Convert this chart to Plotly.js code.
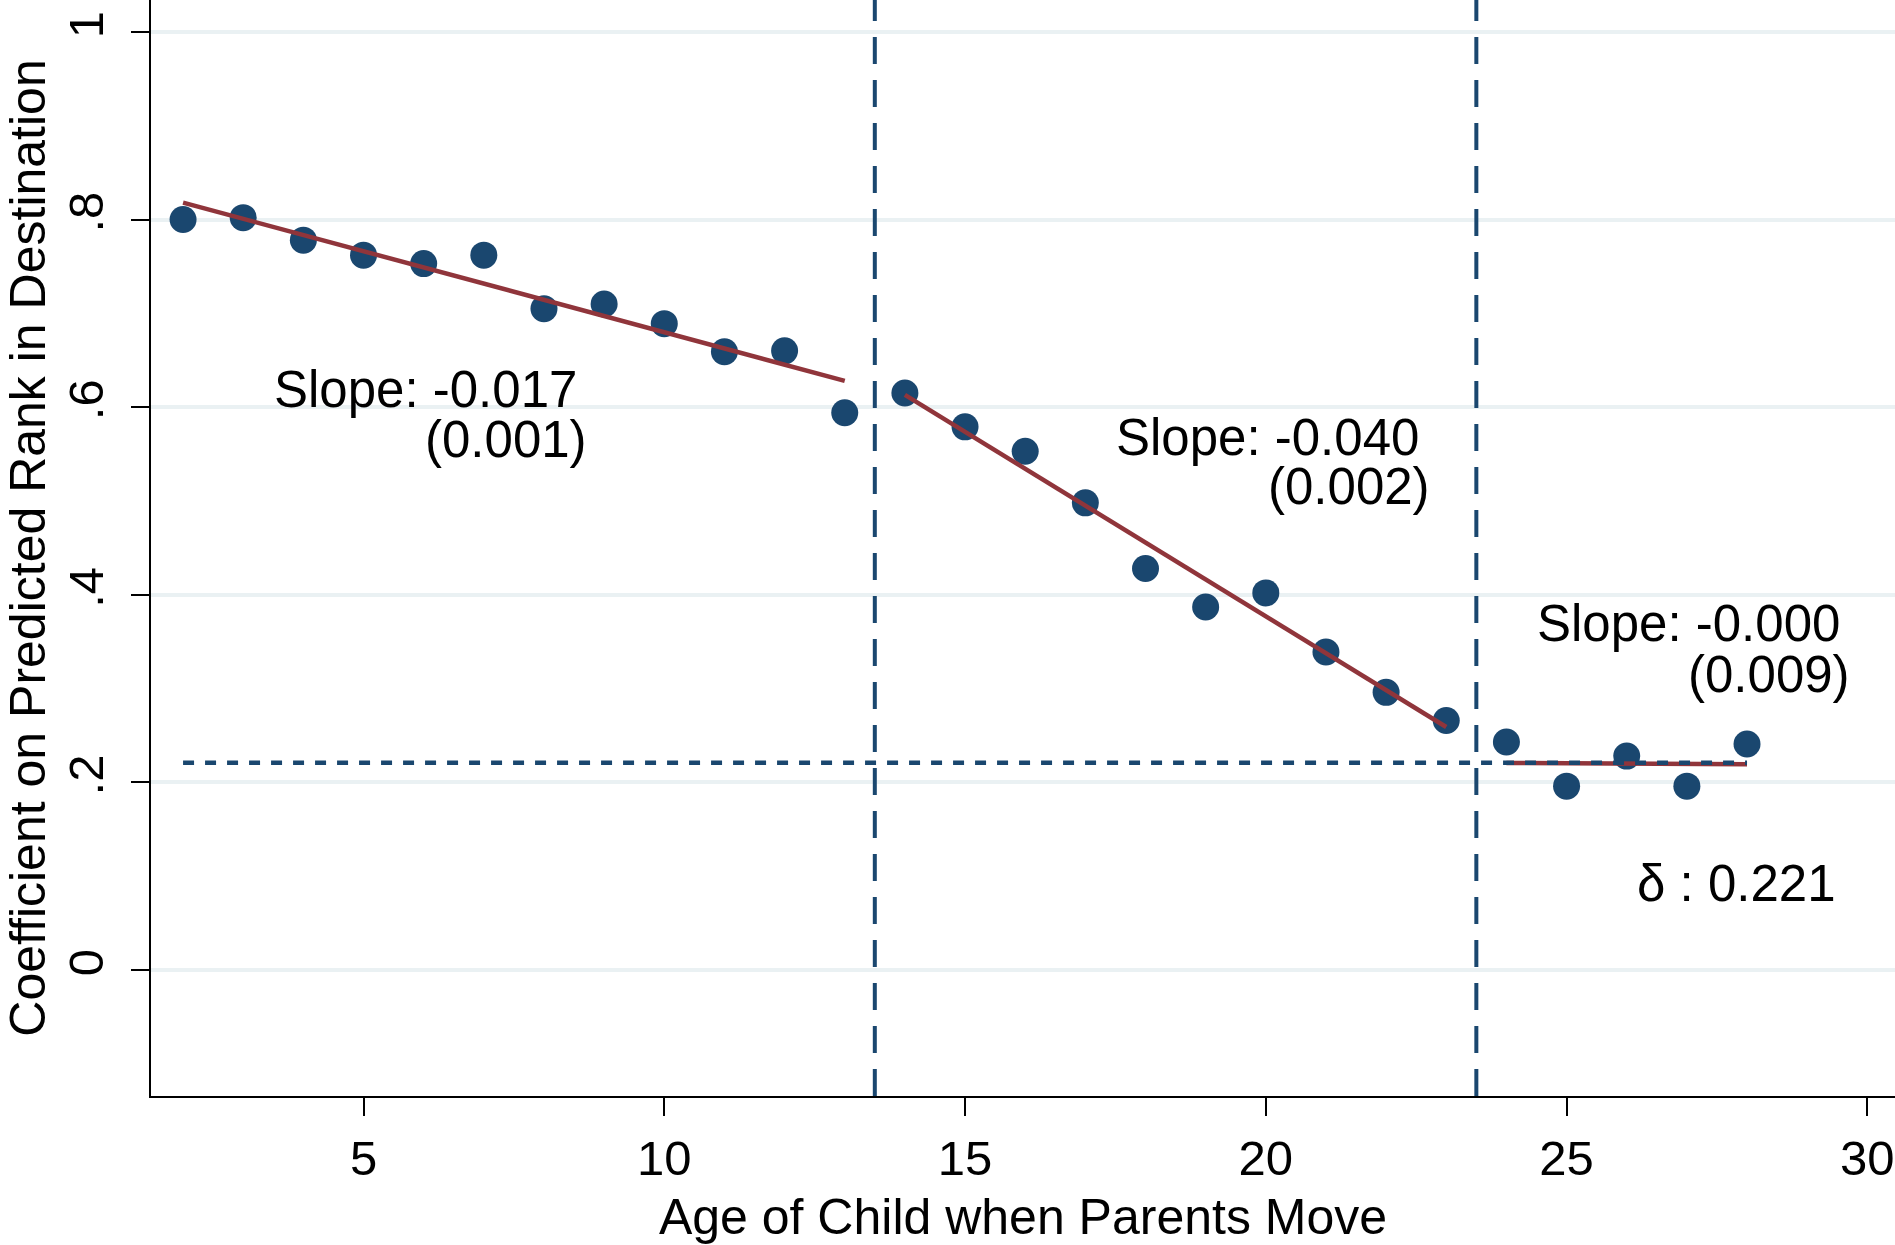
<!DOCTYPE html>
<html>
<head>
<meta charset="utf-8">
<script src="https://cdn.plot.ly/plotly-3.0.1.min.js"></script>
<style>
  html, body { margin: 0; padding: 0; background: #ffffff; }
  #chart { width: 1895px; height: 1245px; }
</style>
</head>
<body>
<div id="chart"></div>
<script>
// ---- Data ----
const ages = [2, 3, 4, 5, 6, 7, 8, 9, 10, 11, 12, 13, 14, 15, 16, 17, 18, 19, 20, 21, 22, 23, 24, 25, 26, 27, 28];
const coefficients = [0.800, 0.802, 0.778, 0.762, 0.753, 0.762, 0.705, 0.710, 0.689, 0.659, 0.660, 0.594,
                      0.615, 0.579, 0.553, 0.498, 0.428, 0.387, 0.402, 0.339, 0.296, 0.266,
                      0.243, 0.196, 0.228, 0.196, 0.241];

// Fitted lines (endpoints of each linear segment)
const fitEarlyX = [2, 13];
const fitEarlyY = [0.818, 0.628];
const fitMidX = [14, 23];
const fitMidY = [0.613, 0.259];
const fitLateX = [24, 28];
const fitLateY = [0.2207, 0.2193];

// Horizontal reference line at delta
const deltaValue = 0.221;
const deltaX = [2, 28];

// Vertical break points
const breakPoints = [13.5, 23.5];

// Axis ticks
const xTickVals = [5, 10, 15, 20, 25, 30];
const yTickVals = [0, 0.2, 0.4, 0.6, 0.8, 1];
const yTickText = ['0', '.2', '.4', '.6', '.8', '1'];

// Annotation texts
const slopeTexts = ['Slope: -0.017', '(0.001)', 'Slope: -0.040', '(0.002)', 'Slope: -0.000', '(0.009)'];
const deltaText = 'δ : 0.221';

// ---- Styling ----
const NAVY = '#1a476f';
const MAROON = '#90353b';
const FONT = 'Liberation Sans, Arial, Helvetica, sans-serif';

const traces = [
  {
    x: ages, y: coefficients, type: 'scatter', mode: 'markers',
    marker: { color: NAVY, size: 27, line: { width: 0 } },
    hoverinfo: 'x+y'
  },
  { x: fitEarlyX, y: fitEarlyY, type: 'scatter', mode: 'lines', line: { color: MAROON, width: 4.5 } },
  { x: fitMidX, y: fitMidY, type: 'scatter', mode: 'lines', line: { color: MAROON, width: 4.5 } },
  { x: fitLateX, y: fitLateY, type: 'scatter', mode: 'lines', line: { color: MAROON, width: 4.5 } },
  {
    x: deltaX, y: deltaX.map(() => deltaValue), type: 'scatter', mode: 'lines',
    line: { color: NAVY, width: 4.5, dash: '11px,11px' }
  }
];

const shapes = breakPoints.map(b => ({
  type: 'line', xref: 'x', yref: 'paper', x0: b, x1: b, y0: 0, y1: 1,
  line: { color: NAVY, width: 4, dash: '27px,16px' }, layer: 'above'
}));

function ann(text, x, y) {
  return { text: text, x: x, y: y, xref: 'x', yref: 'y', xanchor: 'left', yanchor: 'middle',
           showarrow: false, font: { family: FONT, size: 51, color: '#000' } };
}

const annotations = [
  ann(slopeTexts[0], 3.48, 0.619),
  ann(slopeTexts[1], 5.99, 0.565),
  ann(slopeTexts[2], 17.47, 0.568),
  ann(slopeTexts[3], 20.0, 0.515),
  ann(slopeTexts[4], 24.47, 0.369),
  ann(slopeTexts[5], 26.99, 0.315),
  ann(deltaText, 26.14, 0.092)
];

const layout = {
  width: 1895, height: 1245,
  margin: { l: 151, r: 0, t: 0, b: 149, pad: 0 },
  paper_bgcolor: '#ffffff', plot_bgcolor: '#ffffff',
  showlegend: false,
  font: { family: FONT, color: '#000' },
  xaxis: {
    range: [1.467, 30.46], autorange: false,
    tickmode: 'array', tickvals: xTickVals,
    ticks: 'outside', ticklen: 18, tickwidth: 2, tickcolor: '#000',
    showline: true, linecolor: '#000', linewidth: 2,
    showgrid: false, zeroline: false,
    tickfont: { family: FONT, size: 49, color: '#000' },
    ticklabelstandoff: 0,
    title: { text: 'Age of Child when Parents Move', font: { family: FONT, size: 50, color: '#000' }, standoff: 39 },
    automargin: false
  },
  yaxis: {
    range: [-0.1343, 1.034], autorange: false,
    tickmode: 'array', tickvals: yTickVals, ticktext: yTickText,
    tickangle: -90,
    ticks: 'outside', ticklen: 18, tickwidth: 2, tickcolor: '#000',
    showline: true, linecolor: '#000', linewidth: 2,
    showgrid: true, gridcolor: '#eaf1f3', gridwidth: 4, zeroline: false,
    tickfont: { family: FONT, size: 49, color: '#000' },
    ticklabelstandoff: 8,
    title: { text: 'Coefficient on Predicted Rank in Destination', font: { family: FONT, size: 50, color: '#000' }, standoff: 16 },
    automargin: false
  },
  shapes: shapes,
  annotations: annotations
};

Plotly.newPlot('chart', traces, layout, { displayModeBar: false, staticPlot: true });
</script>
</body>
</html>
